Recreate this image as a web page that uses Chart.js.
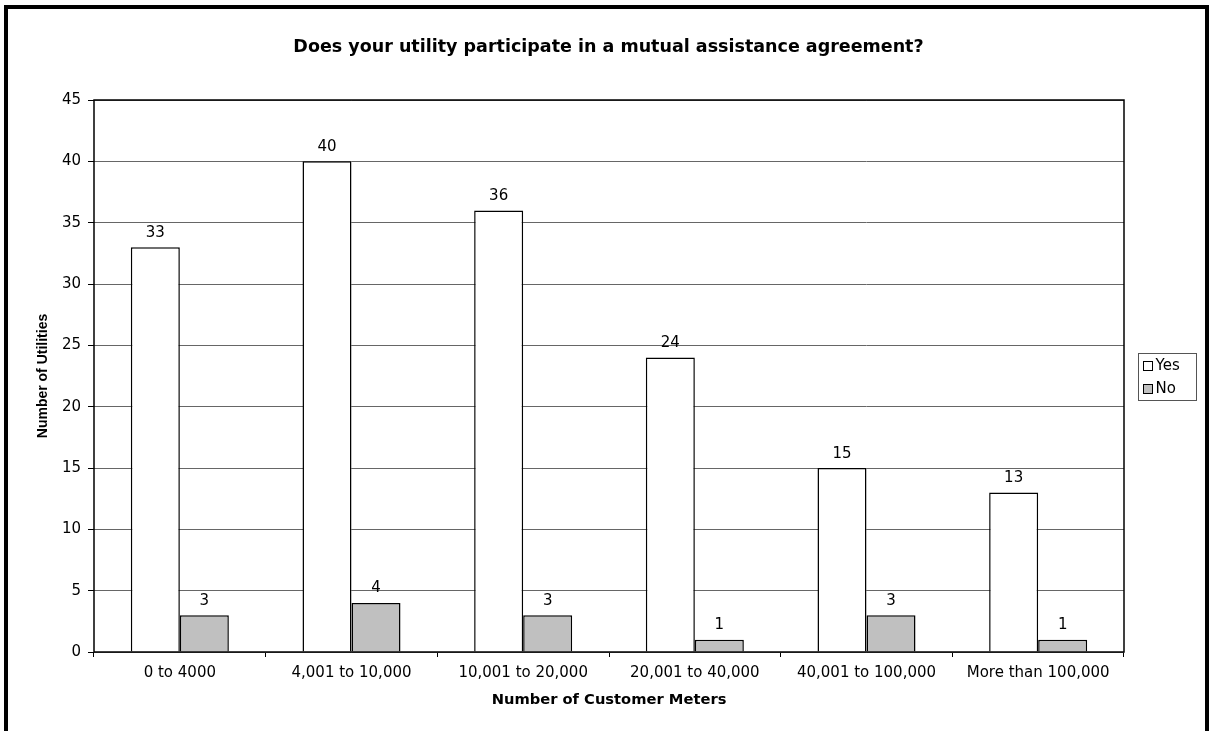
<!DOCTYPE html>
<html><head><meta charset="utf-8">
<script src="https://cdn.jsdelivr.net/npm/chart.js@4"></script>
<style>
html,body{margin:0;padding:0;background:#fff;}
#wrap{position:absolute;left:0;top:0;width:1209px;height:731px;}
canvas{display:block;}
</style>
</head><body><div id="wrap"><canvas id="c" width="1209" height="731"></canvas></div>
<script>
const chartTitle = 'Does your utility participate in a mutual assistance agreement?';
const xAxisTitle = 'Number of Customer Meters';
const yAxisTitle = 'Number of Utilities';
const categories = ['0 to 4000', '4,001 to 10,000', '10,001 to 20,000', '20,001 to 40,000', '40,001 to 100,000', 'More than 100,000'];
const seriesNames = ['Yes', 'No'];
const yesValues = [33, 40, 36, 24, 15, 13];
const noValues = [3, 4, 3, 1, 3, 1];
const yMin = 0, yMax = 45, yStep = 5;

const FONT = '"DejaVu Sans", sans-serif';
const seriesColors = ['#FFFFFF', '#C0C0C0'];

const bgPlugin = {
  id: 'bg',
  beforeDraw(chart) {
    const ctx = chart.ctx;
    ctx.save();
    ctx.fillStyle = '#fff';
    ctx.fillRect(0, 0, chart.width, chart.height);
    ctx.restore();
  }
};

const labelPlugin = {
  id: 'valueLabels',
  afterDatasetsDraw(chart) {
    const ctx = chart.ctx;
    ctx.save();
    ctx.font = '15px ' + FONT;
    ctx.fillStyle = '#000';
    ctx.textAlign = 'center';
    ctx.textBaseline = 'alphabetic';
    chart.data.datasets.forEach((ds, i) => {
      const meta = chart.getDatasetMeta(i);
      meta.data.forEach((el, j) => {
        ctx.fillText(String(ds.data[j]), el.x, el.y - 10.5);
      });
    });
    ctx.restore();
  }
};

const framePlugin = {
  id: 'frame',
  afterDraw(chart) {
    const ctx = chart.ctx;
    const a = chart.chartArea;
    ctx.save();
    // chart title, centred on the whole chart
    ctx.font = 'bold 17.5px ' + FONT;
    ctx.fillStyle = '#000';
    ctx.textAlign = 'center';
    ctx.textBaseline = 'middle';
    ctx.fillText(chartTitle, chart.width / 2 + 4, 47);
    // plot area border
    ctx.strokeStyle = '#000';
    ctx.lineWidth = 1.5;
    ctx.strokeRect(a.left, a.top, a.right - a.left, a.bottom - a.top);
    // legend
    const lx = a.right + 14.5, lh = 47, lw = 58;
    const ly = Math.round((a.top + a.bottom) / 2 - lh / 2) + 0.5;
    ctx.lineWidth = 1;
    ctx.strokeStyle = '#555';
    ctx.strokeRect(lx, ly, lw, lh);
    ctx.font = '15px ' + FONT;
    ctx.textAlign = 'left';
    ctx.textBaseline = 'middle';
    chart.data.datasets.forEach((ds, i) => {
      const cy = ly + 12.5 + i * 23;
      ctx.fillStyle = ds.backgroundColor;
      ctx.fillRect(lx + 5, cy - 4.5, 9, 9);
      ctx.strokeStyle = '#000';
      ctx.strokeRect(lx + 5, cy - 4.5, 9, 9);
      ctx.fillStyle = '#000';
      ctx.fillText(ds.label, lx + 17, cy);
    });
    // outer chart border
    ctx.strokeStyle = '#000';
    ctx.lineWidth = 4;
    ctx.strokeRect(6, 7, chart.width - 8, chart.height + 20);
    ctx.restore();
  }
};

new Chart(document.getElementById('c'), {
  type: 'bar',
  data: {
    labels: categories,
    datasets: [
      { label: seriesNames[0], data: yesValues, backgroundColor: seriesColors[0], borderColor: '#000', borderWidth: 1.5 },
      { label: seriesNames[1], data: noValues, backgroundColor: seriesColors[1], borderColor: '#000', borderWidth: 1.5 }
    ]
  },
  options: {
    responsive: false,
    animation: false,
    devicePixelRatio: 1,
    layout: { padding: { left: 0, right: 85, top: 100, bottom: 0 } },
    datasets: { bar: { categoryPercentage: 0.571, barPercentage: 1.0 } },
    plugins: {
      legend: { display: false },
      tooltip: { enabled: false },
      title: { display: false }
    },
    scales: {
      x: {
        afterFit(scale) { scale.height = 79; },
        grid: { display: true, drawOnChartArea: false, drawTicks: true, tickLength: 5, tickColor: '#000', offset: true },
        border: { display: false },
        ticks: { color: '#000', font: { family: FONT, size: 15 }, padding: 7, maxRotation: 0, autoSkip: false },
        title: {
          display: true, text: xAxisTitle, color: '#000',
          font: { family: FONT, size: 14.7, weight: 'bold', lineHeight: 1.2 },
          padding: { top: 0, bottom: 22 }
        }
      },
      y: {
        min: yMin, max: yMax,
        afterFit(scale) { scale.width = 94; },
        grid: { color: '#666', lineWidth: 1, drawTicks: true, tickLength: 6, tickColor: '#000' },
        border: { display: false },
        ticks: { stepSize: yStep, color: '#000', font: { family: FONT, size: 15 }, padding: 7 },
        title: {
          display: true, text: yAxisTitle, color: '#000',
          font: { family: '"Liberation Sans", Arial, sans-serif', size: 14, weight: 'bold', lineHeight: 1.2 },
          padding: { top: 34.6, bottom: 0 }
        }
      }
    }
  },
  plugins: [bgPlugin, labelPlugin, framePlugin]
});
</script>
</body></html>
